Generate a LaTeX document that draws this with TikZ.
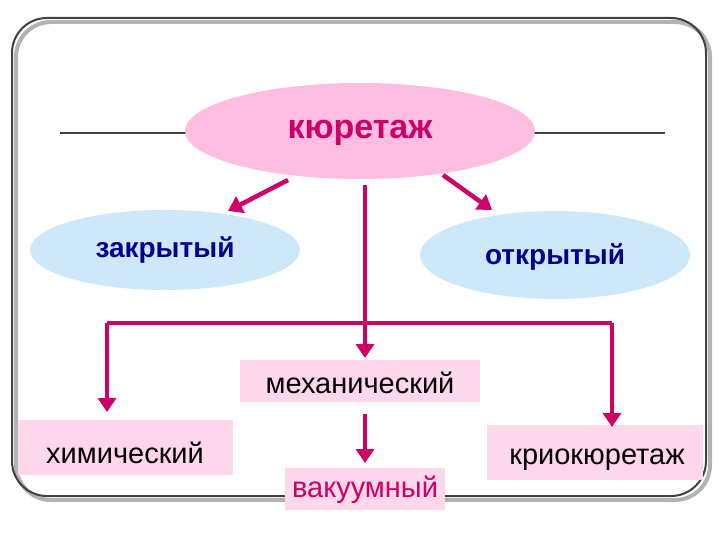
\documentclass[tikz,border=0pt]{standalone}
\usepackage{fontspec}
\setmainfont{Liberation Sans}
\usetikzlibrary{arrows.meta}
\definecolor{crim}{RGB}{204,0,102}
\definecolor{pinkfill}{RGB}{255,190,225}
\definecolor{bluefill}{RGB}{205,232,250}
\definecolor{boxfill}{RGB}{255,215,235}
\begin{document}
\begin{tikzpicture}[x=1pt,y=-1pt,
    arr/.style={crim, line width=4.5pt, -{Triangle[length=14pt,width=18pt]}},
    seg/.style={crim, line width=4.5pt},
    ovalbox/.style={draw=none, inner sep=0},
    methodbox/.style={draw=none, inner sep=0, font=\fontsize{29}{32}\selectfont}]
    \useasboundingbox (0,0) rectangle (720,540);
    \fill[white] (0,0) rectangle (720,540);
    % frame
    \draw[gray!60, line width=4pt, rounded corners=35pt] (16,22) rectangle (710,500);
    \draw[black!75, line width=2pt, rounded corners=35pt] (12,18) rectangle (706,496);
    \draw[black!75, line width=1.5pt] (60,133) -- (190,133);
    \draw[black!75, line width=1.5pt] (530,133) -- (665,133);
    % ovals
    \fill[pinkfill] (360,131) ellipse [x radius=175pt, y radius=48pt];
    \node[ovalbox, text=crim, font=\bfseries\fontsize{34}{38}\selectfont] (root) at (360,133) {кюретаж};
    \fill[bluefill] (165,250) ellipse [x radius=135pt, y radius=40pt];
    \node[ovalbox, text=blue!55!black, font=\bfseries\fontsize{28}{32}\selectfont] (closed) at (165,250) {закрытый};
    \fill[bluefill] (555,255) ellipse [x radius=135pt, y radius=44pt];
    \node[ovalbox, text=blue!55!black, font=\bfseries\fontsize{28}{32}\selectfont] (open) at (555,257) {открытый};
    % boxes
    \fill[boxfill] (240,360) rectangle (480,402);
    \node[methodbox] (mech) at (360,383) {механический};
    \fill[boxfill] (18,420) rectangle (233,475);
    \node[methodbox] (chem) at (125,453) {химический};
    \fill[boxfill] (285,468) rectangle (445,510);
    \node[methodbox, text=crim] (vac) at (365,490) {вакуумный};
    \fill[boxfill] (487,425) rectangle (703,480);
    \node[methodbox] (cryo) at (597,460) {криокюретаж};
    % connectors
    \coordinate (ra) at (288,180);
    \coordinate (rb) at (443,175);
    \coordinate (ca) at (228,211);
    \coordinate (ob) at (492,210);
    \coordinate (top) at (365,185);
    \coordinate (ml) at (107,323);
    \coordinate (mr) at (612,323);
    \draw[arr] (ra) -- (ca);
    \draw[arr] (rb) -- (ob);
    \draw[arr] (top) -- (365,358);
    \draw[seg] (ml) -- (mr);
    \draw[arr] (ml) -- (107,412);
    \draw[arr] (mr) -- (612,427);
    \draw[arr] (365,414) -- (365,463);
\end{tikzpicture}
\end{document}
